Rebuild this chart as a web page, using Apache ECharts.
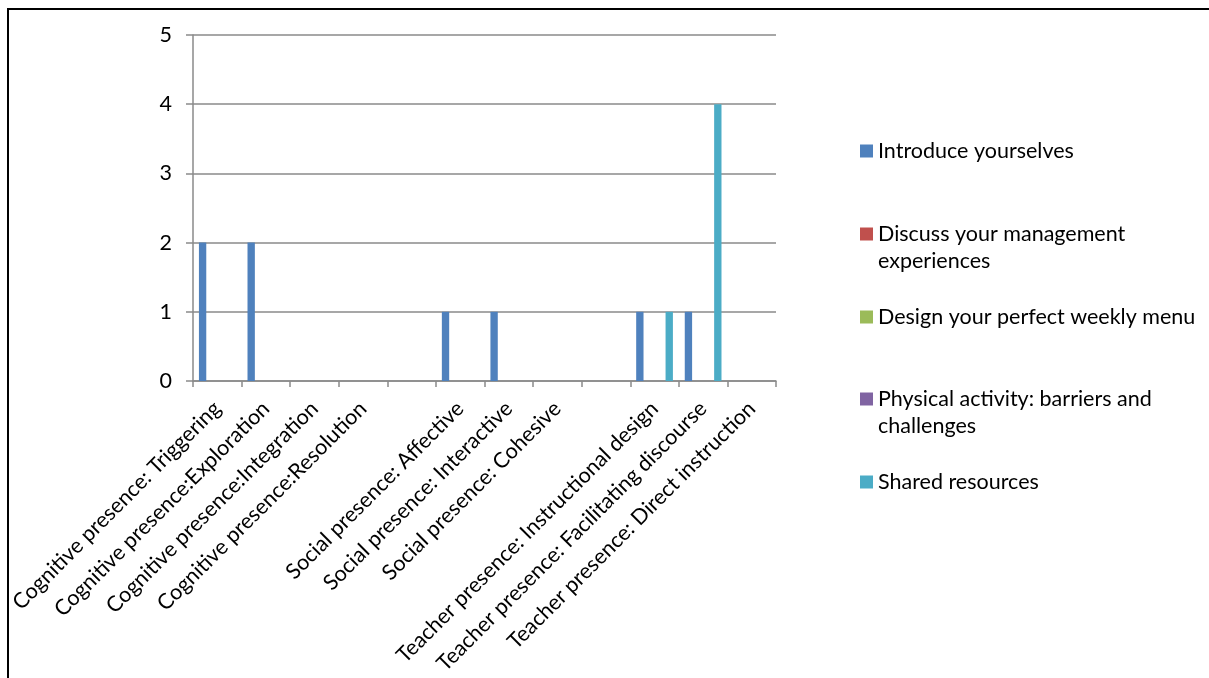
<!DOCTYPE html>
<html>
<head>
<meta charset="utf-8">
<script src="https://cdn.jsdelivr.net/npm/echarts@6/dist/echarts.min.js"></script>
<style>
  html, body { margin: 0; padding: 0; background: #fff; }
  #chart { width: 1209px; height: 678px; }
</style>
</head>
<body>
<div id="chart"></div>
<script>
// Coded discussion posts per presence indicator, one series per forum
const categories = [
  'Cognitive presence: Triggering',
  'Cognitive presence:Exploration',
  'Cognitive presence:Integration',
  'Cognitive presence:Resolution',
  ' ',
  'Social presence: Affective',
  'Social presence: Interactive',
  'Social presence: Cohesive',
  '  ',
  'Teacher presence: Instructional design',
  'Teacher presence: Facilitating discourse',
  'Teacher presence: Direct instruction'
];
const seriesNames = [
  'Introduce yourselves',
  'Discuss your management experiences',
  'Design your perfect weekly menu',
  'Physical activity: barriers and challenges',
  'Shared resources'
];
const introduceYourselves = [2, 2, 0, 0, 0, 1, 1, 0, 0, 1, 1, 0];
const discussManagement   = [0, 0, 0, 0, 0, 0, 0, 0, 0, 0, 0, 0];
const designWeeklyMenu    = [0, 0, 0, 0, 0, 0, 0, 0, 0, 0, 0, 0];
const physicalActivity    = [0, 0, 0, 0, 0, 0, 0, 0, 0, 0, 0, 0];
const sharedResources     = [0, 0, 0, 0, 0, 0, 0, 0, 0, 1, 4, 0];
const yTicks = [0, 1, 2, 3, 4, 5];

const values = [introduceYourselves, discussManagement, designWeeklyMenu, physicalActivity, sharedResources];
const colors = ['#4F81BD', '#C0504D', '#9BBB59', '#8064A2', '#4BACC6'];

// legend rows: first line of each entry and its vertical centre
const legendFirstLine = [
  'Introduce yourselves',
  'Discuss your management',
  'Design your perfect weekly menu',
  'Physical activity: barriers and',
  'Shared resources'
];
const legendCentres = [150, 233, 316, 398, 481];
const legendSecondLines = [null, 'experiences', null, 'challenges', null];

const FONT = 'Lato';
const FS = 21.5;
const CAT_FS = 21.5;
const GRID = '#8a8a8a';

const chart = echarts.init(document.getElementById('chart'), null, { renderer: 'canvas' });

const legends = seriesNames.map((name, i) => ({
  data: [name],
  left: 860,
  top: legendCentres[i] - 10,
  padding: 0,
  itemWidth: 13,
  itemHeight: 13,
  itemGap: 0,
  selectedMode: false,
  icon: 'rect',
  formatter: () => legendFirstLine[i],
  textStyle: { fontFamily: FONT, fontSize: FS, color: '#000' }
}));

const graphics = [
  {
    type: 'rect',
    shape: { x: 8, y: 9, width: 1400, height: 900 },
    style: { fill: 'none', stroke: '#000', lineWidth: 2 },
    silent: true
  }
];
legendSecondLines.forEach((t, i) => {
  if (!t) return;
  graphics.push({
    type: 'text',
    left: 878,
    top: legendCentres[i] + 17,
    style: { text: t, font: FS + 'px ' + FONT, fill: '#000' },
    silent: true
  });
});

chart.setOption({
  animation: false,
  backgroundColor: '#fff',
  grid: {
    left: 193, right: 433, top: 35, bottom: 297,
    containLabel: false,
    outerBoundsMode: 'none'
  },
  legend: legends,
  graphic: graphics,
  xAxis: {
    type: 'category',
    data: categories,
    axisLine: { show: true, lineStyle: { color: GRID, width: 1.5 } },
    axisTick: { show: true, length: 6, lineStyle: { color: GRID, width: 1.5 } },
    axisLabel: {
      interval: 0,
      rotate: 45,
      margin: 24,
      fontFamily: FONT,
      fontSize: CAT_FS,
      color: '#000'
    },
    splitLine: { show: false }
  },
  yAxis: {
    type: 'value',
    min: yTicks[0],
    max: yTicks[yTicks.length - 1],
    interval: 1,
    axisLine: { show: true, lineStyle: { color: GRID, width: 1.5 } },
    axisTick: { show: true, length: 7, lineStyle: { color: GRID, width: 1.5 } },
    axisLabel: { margin: 21, fontFamily: FONT, fontSize: FS, color: '#000' },
    splitLine: { show: true, lineStyle: { color: GRID, width: 1.5 } }
  },
  series: seriesNames.map((name, i) => ({
    name: name,
    type: 'bar',
    data: values[i],
    barGap: '0%',
    barCategoryGap: '24.4%',
    itemStyle: { color: colors[i] },
    emphasis: { disabled: true }
  }))
});
</script>
</body>
</html>
